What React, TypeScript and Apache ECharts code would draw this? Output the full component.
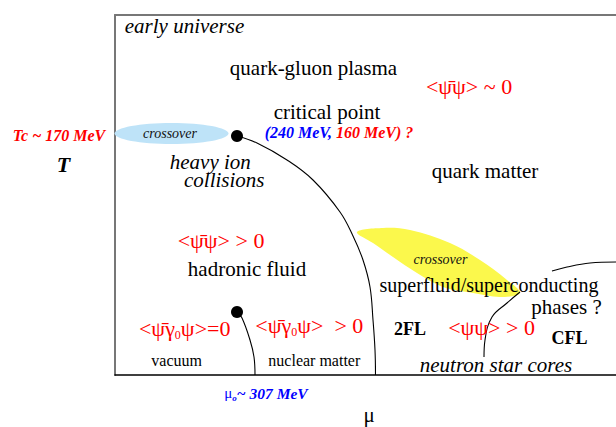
import React, { useEffect, useRef } from "react";
import * as echarts from "echarts";

// Schematic axes (arbitrary units): mu to the right, T upwards
const X_RANGE = [0, 501];
const Y_RANGE = [0, 360];

// Chiral phase boundary from the critical point down to the mu axis
const chiralBoundary = [
  [122, 239], [142, 232], [172, 215], [198, 195], [225, 163], [238, 139],
  [248, 115], [255, 88], [258, 55], [260, 25], [260.5, 0],
];
// Nuclear liquid-gas line
const liquidGasLine = [[122, 63], [127, 57], [135, 35], [139, 18], [140, 0]];
// 2FL / CFL separation
const cflBoundary = [[369, 18], [370, 35], [377, 58], [392, 72], [405, 83]];
const cflUpper = [[437, 104], [452, 108], [475, 112], [501, 113]];
// Critical end points
const criticalPoints = [[122, 239], [122, 63]];
// Crossover regions
const crossoverEllipse = [[56.5, 241.5, 57, 10.5]];
const crossoverLens = [
  [242, 143], [268, 147], [295, 145], [335, 132], [365, 115], [392, 95], [405, 82],
  [385, 78], [358, 82], [328, 88], [302, 102], [278, 118], [258, 132],
];

// Text labels: [text, x, y]
const labels: [string, number, number][] = [
  ["early universe", 69.5, 349],
  ["quark-gluon plasma", 198.5, 307],
  ["<ψ\u0304ψ> ~ 0", 354, 289],
  ["critical point", 212, 263],
  ["{b|(240 MeV,} {r|160 MeV) ?}", 224, 242.5],
  ["Tc ~ 170 MeV", -56, 239.5],
  ["T", -51.5, 211],
  ["crossover", 55, 242],
  ["{a|heavy ion}\n{c|collisions}", 102.25, 204.5],
  ["quark matter", 370, 204],
  ["<ψ\u0304ψ> > 0", 106, 135],
  ["hadronic fluid", 132, 106],
  ["crossover", 325.5, 116],
  ["superfluid/superconducting", 374, 90],
  ["phases ?", 451.5, 68],
  ["{m|<ψ\u0304γ}{s|0}{m|ψ>=0}", 69.7, 47],
  ["{m|<ψ\u0304γ}{s|0}{m|ψ>  > 0}", 194.3, 50],
  ["2FL", 295, 46],
  ["<ψψ> > 0", 376.5, 47.5],
  ["CFL", 454.5, 37.5],
  ["vacuum", 61.7, 15],
  ["nuclear matter", 199.3, 15],
  ["neutron star cores", 381, 10],
  ["{m|μ}{s|o}{b|~ 307 MeV}", 151, -18],
  ["μ", 254, -40],
];
const labelKinds = [
  "italic", "region", "formula", "region", "coord", "tc", "tname", "note",
  "twoLine", "region", "formula", "region", "note", "super", "region",
  "formulaSub", "formulaSub", "phase", "formula", "phase", "small", "small",
  "italic", "mu0", "region",
];

const SERIF = '"Liberation Serif", "Times New Roman", "DejaVu Serif", serif';
const RED = "#ff0000";
const BLUE = "#0000ff";

const TEXT_STYLES: Record<string, any> = {
  italic: { fontFamily: SERIF, fontSize: 21, fontStyle: "italic", fill: "#000" },
  twoLine: {
    fontFamily: SERIF, fontSize: 21, fontStyle: "italic", fill: "#000",
    rich: {
      a: { fontFamily: SERIF, fontSize: 21, fontStyle: "italic", fill: "#000", lineHeight: 18, padding: [0, 14, 0, 0] },
      c: { fontFamily: SERIF, fontSize: 21, fontStyle: "italic", fill: "#000", lineHeight: 18, padding: [0, 0, 0, 14] },
    },
  },
  region: { fontFamily: SERIF, fontSize: 21, fill: "#000" },
  super: { fontFamily: SERIF, fontSize: 20, fill: "#000" },
  formula: { fontFamily: SERIF, fontSize: 22, fill: RED },
  small: { fontFamily: SERIF, fontSize: 16, fill: "#000" },
  phase: { fontFamily: SERIF, fontSize: 18, fontWeight: "bold", fill: "#000" },
  note: { fontFamily: SERIF, fontSize: 14, fontStyle: "italic", fill: "#111" },
  tc: { fontFamily: SERIF, fontSize: 16, fontStyle: "italic", fontWeight: "bold", fill: RED },
  tname: { fontFamily: SERIF, fontSize: 22, fontStyle: "italic", fontWeight: "bold", fill: "#000" },
  coord: {
    fontFamily: SERIF, fontSize: 16,
    rich: {
      b: { fontFamily: SERIF, fontSize: 16, fontStyle: "italic", fontWeight: "bold", fill: BLUE },
      r: { fontFamily: SERIF, fontSize: 16, fontStyle: "italic", fontWeight: "bold", fill: RED },
    },
  },
  formulaSub: {
    fontFamily: SERIF, fontSize: 22,
    rich: {
      m: { fontFamily: SERIF, fontSize: 22, fill: RED, lineHeight: 26 },
      s: { fontFamily: SERIF, fontSize: 12, fill: RED, lineHeight: 12, verticalAlign: "bottom" },
    },
  },
  mu0: {
    fontFamily: SERIF, fontSize: 15,
    rich: {
      m: { fontFamily: SERIF, fontSize: 15, fill: BLUE, lineHeight: 18 },
      s: { fontFamily: SERIF, fontSize: 9, fontStyle: "italic", fontWeight: "bold", fill: BLUE, lineHeight: 9, verticalAlign: "bottom" },
      b: { fontFamily: SERIF, fontSize: 15.5, fontStyle: "italic", fontWeight: "bold", fill: BLUE, lineHeight: 18 },
    },
  },
};

export default function App() {
  const ref = useRef<HTMLDivElement>(null);
  useEffect(() => {
    if (!ref.current) return;
    const chart = echarts.init(ref.current, undefined, { renderer: "svg" });
    const curve = (name: string, data: number[][]) => ({
      name, type: "line", data, smooth: 0.4, showSymbol: false, silent: true,
      lineStyle: { color: "#000", width: 1.1 }, z: 3,
    });
    chart.setOption({
      animation: false,
      backgroundColor: "#fff",
      grid: { left: 115, right: 0, top: 15, bottom: 52 },
      xAxis: [
        {
          type: "value", min: X_RANGE[0], max: X_RANGE[1], position: "bottom",
          axisLine: { show: true, onZero: false, lineStyle: { color: "#000", width: 1.5 } },
          axisTick: { show: false }, axisLabel: { show: false }, splitLine: { show: false },
        },
        {
          type: "value", min: X_RANGE[0], max: X_RANGE[1], position: "top",
          axisLine: { show: true, onZero: false, lineStyle: { color: "#777", width: 2 } },
          axisTick: { show: false }, axisLabel: { show: false }, splitLine: { show: false },
        },
      ],
      yAxis: {
        type: "value", min: Y_RANGE[0], max: Y_RANGE[1],
        axisLine: { show: true, onZero: false, lineStyle: { color: "#777", width: 2 } },
        axisTick: { show: false }, axisLabel: { show: false }, splitLine: { show: false },
      },
      series: [
        {
          name: "crossover (low mu)", type: "custom", data: crossoverEllipse, z: 1,
          renderItem: (_p: any, api: any) => {
            const c = api.coord([api.value(0), api.value(1)]);
            const s = api.size([api.value(2), api.value(3)]);
            return { type: "ellipse", shape: { cx: c[0], cy: c[1], rx: s[0], ry: s[1] }, style: { fill: "#bee3f8" } };
          },
        },
        {
          name: "crossover (high mu)", type: "custom", data: [[0]], z: 1,
          renderItem: (_p: any, api: any) => ({
            type: "polygon",
            shape: { points: crossoverLens.map((p) => api.coord(p)), smooth: 0.35 },
            style: { fill: "#fbf84c" },
          }),
        },
        curve("chiral boundary", chiralBoundary),
        curve("liquid-gas", liquidGasLine),
        curve("2FL/CFL", cflBoundary),
        curve("CFL upper", cflUpper),
        {
          name: "critical points", type: "scatter", data: criticalPoints, symbolSize: 12,
          itemStyle: { color: "#000", opacity: 1 }, z: 4, silent: true,
        },
        {
          name: "labels", type: "custom", z: 5, clip: false,
          data: labels.map((l) => [l[1], l[2]]),
          renderItem: (p: any, api: any) => {
            const c = api.coord([api.value(0), api.value(1)]);
            const st = TEXT_STYLES[labelKinds[p.dataIndex]];
            return {
              type: "text", x: c[0], y: c[1],
              style: { ...st, text: labels[p.dataIndex][0], align: "center", verticalAlign: "middle" },
            };
          },
        },
      ],
    });
    return () => chart.dispose();
  }, []);
  return (
    <div
      ref={ref}
      style={{ position: "absolute", left: 0, top: 0, width: 616, height: 427, background: "#fff" }}
    />
  );
}
